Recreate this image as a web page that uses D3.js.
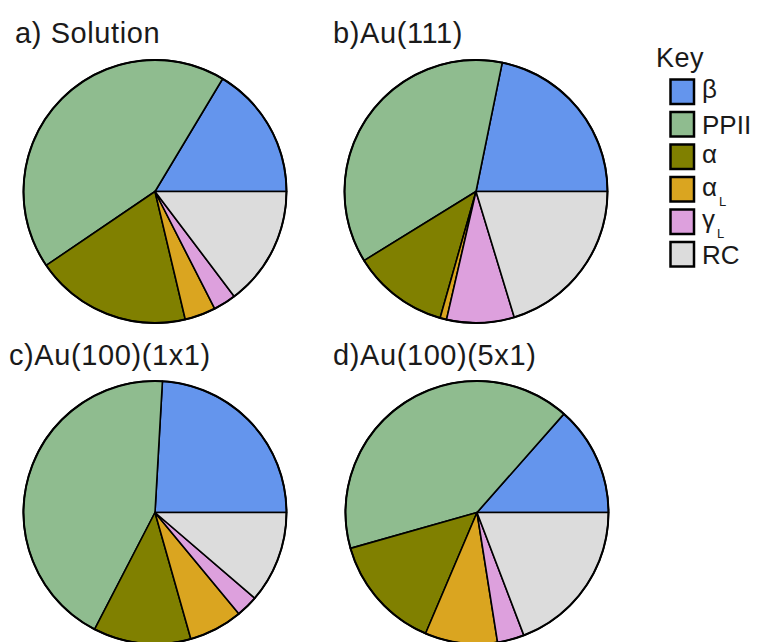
<!DOCTYPE html>
<html>
<head>
<meta charset="utf-8">
<script src="https://cdn.jsdelivr.net/npm/d3@7"></script>
<style>
  html, body { margin: 0; padding: 0; background: #fff; }
  svg { display: block; font-family: "Liberation Sans", Arial, Helvetica, sans-serif; }
</style>
</head>
<body>
<svg id="chart" width="758" height="642"></svg>
<script>
// Secondary-structure populations (%) for each environment
const categories = ["β", "PPII", "α", "αL", "γL", "RC"];
const colors = ["#6495ED", "#8FBC8F", "#808000", "#DAA520", "#DDA0DD", "#DCDCDC"];

const panelTitles = ["a) Solution", "b)Au(111)", "c)Au(100)(1x1)", "d)Au(100)(5x1)"];
const solution   = [16.4, 43.1, 19.2, 3.8, 2.8, 14.7];
const au111      = [21.8, 37.0, 11.8, 0.8, 8.3, 20.3];
const au100_1x1  = [24.1, 43.3, 12.0, 6.6, 2.7, 11.3];
const au100_5x1  = [13.5, 40.9, 14.2, 8.9, 3.3, 19.2];

const panelValues = [solution, au111, au100_1x1, au100_5x1];

const svg = d3.select("#chart");

// Panel layout
const radius = 131.5;
const panels = [
  { cx: 155, cy: 191.5, tx: 15,  ty: 43 },
  { cx: 476, cy: 191.5, tx: 333, ty: 43 },
  { cx: 155, cy: 512.5, tx: 9,   ty: 365 },
  { cx: 477, cy: 512.5, tx: 333, ty: 365 }
];

const color = d3.scaleOrdinal().domain(categories).range(colors);

// Slices start at 3 o'clock and run counter-clockwise
const pie = d3.pie()
  .sort(null)
  .value(d => d.value)
  .startAngle(Math.PI / 2)
  .endAngle(Math.PI / 2 - 2 * Math.PI);

const arc = d3.arc().innerRadius(0).outerRadius(radius);

panels.forEach((p, i) => {
  const data = categories.map((c, j) => ({ key: c, value: panelValues[i][j] }));

  svg.append("text")
    .attr("x", p.tx)
    .attr("y", p.ty)
    .attr("font-size", 29)
    .attr("letter-spacing", 0.6)
    .attr("fill", "#1a1a1a")
    .text(panelTitles[i]);

  const g = svg.append("g").attr("transform", `translate(${p.cx},${p.cy})`);

  g.selectAll("path.slice")
    .data(pie(data))
    .join("path")
    .attr("class", "slice")
    .attr("d", arc)
    .attr("fill", d => color(d.data.key))
    .attr("stroke", "#000")
    .attr("stroke-width", 1.6)
    .attr("stroke-linejoin", "round");

  g.append("circle")
    .attr("r", radius)
    .attr("fill", "none")
    .attr("stroke", "#000")
    .attr("stroke-width", 2);
});

// Legend
const legend = svg.append("g");
legend.append("text")
  .attr("x", 656)
  .attr("y", 67)
  .attr("font-size", 27)
  .attr("letter-spacing", 0.5)
  .attr("fill", "#1a1a1a")
  .text("Key");

const rowStep = 32.5;
const greek = /^[βαγ]/;
categories.forEach((c, j) => {
  const y0 = 78.3 + j * rowStep;
  legend.append("rect")
    .attr("x", 670.5)
    .attr("y", y0 + 1.2)
    .attr("width", 23.5)
    .attr("height", 24.5)
    .attr("fill", color(c))
    .attr("stroke", "#000")
    .attr("stroke-width", 2.5);

  const t = legend.append("text")
    .attr("x", 702)
    .attr("y", y0 + (greek.test(c) ? 20 : 23))
    .attr("font-size", 26)
    .attr("fill", "#1a1a1a");
  if (c.length === 2 && c.endsWith("L")) {
    t.append("tspan").text(c[0]);
    t.append("tspan")
      .attr("font-size", 13)
      .attr("dy", 10)
      .attr("dx", 2)
      .text("L");
  } else {
    t.text(c);
  }
});
</script>
</body>
</html>
